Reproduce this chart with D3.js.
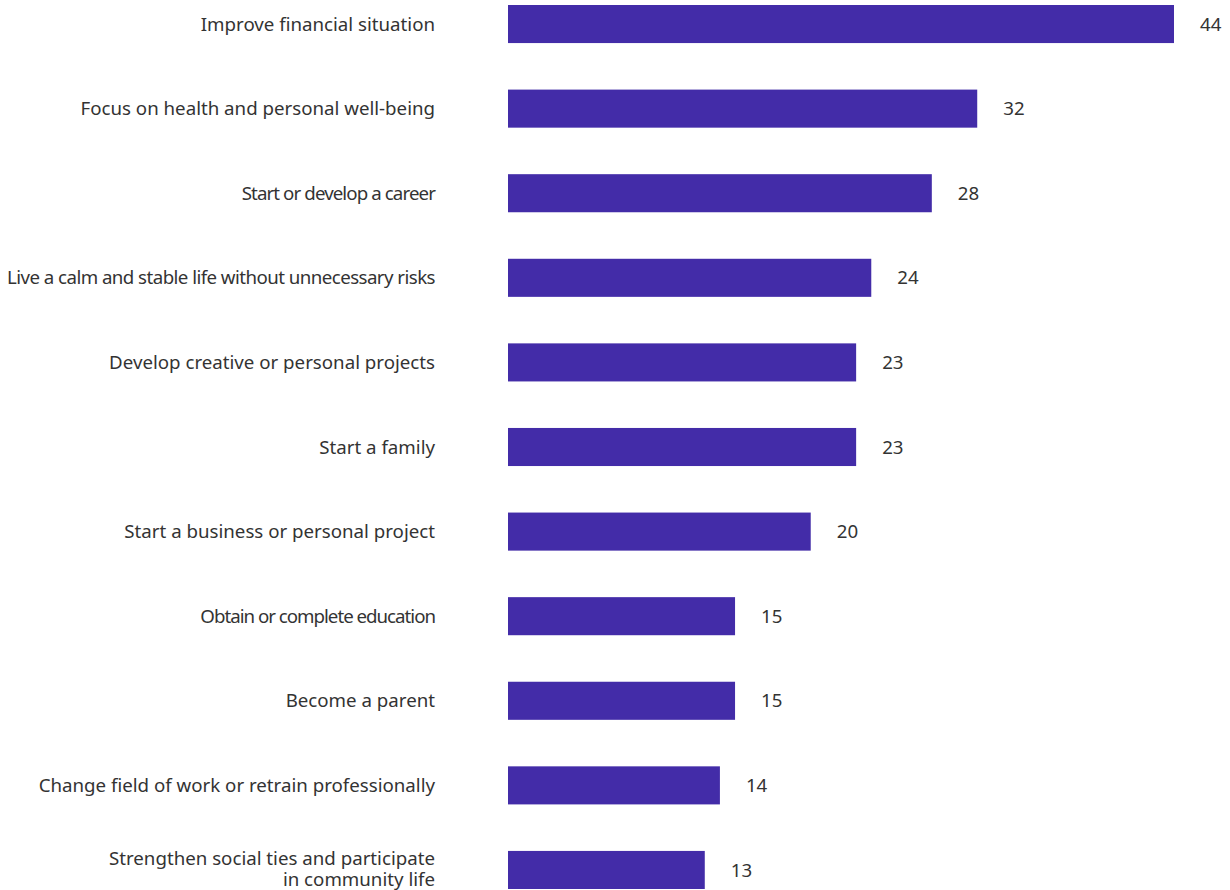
<!DOCTYPE html>
<html>
<head>
<meta charset="utf-8">
<script src="https://cdn.jsdelivr.net/npm/d3@7"></script>
<style>
  html, body { margin: 0; padding: 0; background: #fff; }
  svg { display: block; }
  text { font-family: "Noto Sans", "Open Sans", sans-serif; fill: #333; }
</style>
</head>
<body>
<svg id="chart" width="1230" height="890"></svg>
<script>
const categories = [
  ["Improve financial situation"],
  ["Focus on health and personal well-being"],
  ["Start or develop a career"],
  ["Live a calm and stable life without unnecessary risks"],
  ["Develop creative or personal projects"],
  ["Start a family"],
  ["Start a business or personal project"],
  ["Obtain or complete education"],
  ["Become a parent"],
  ["Change field of work or retrain professionally"],
  ["Strengthen social ties and participate", "in community life"]
];
const values = [44, 31, 28, 24, 23, 23, 20, 15, 15, 14, 13];
const valueLabels = ["44", "32", "28", "24", "23", "23", "20", "15", "15", "14", "13"];
const labelSpacing = [0, 0, -0.9, -0.55, 0, 0, 0, -1.0, 0, 0, 0];

const svg = d3.select("#chart");
const ids = categories.map((c, i) => i);

const x = d3.scaleLinear().domain([0, 44]).range([508, 1174]);
const y = d3.scaleBand().domain(ids).range([5, 889]).paddingInner(0.55).paddingOuter(0);

svg.append("g").selectAll("rect").data(ids).join("rect")
  .attr("x", x(0))
  .attr("y", i => y(i))
  .attr("width", i => x(values[i]) - x(0))
  .attr("height", y.bandwidth())
  .attr("fill", "#432ca8");

svg.append("g").selectAll("text").data(ids).join("text")
  .attr("x", i => x(values[i]) + 26)
  .attr("y", i => y(i) + y.bandwidth() / 2)
  .attr("dy", "0.35em")
  .attr("font-size", 18.7)
  .text(i => valueLabels[i]);

const lab = svg.append("g").selectAll("text").data(ids).join("text")
  .attr("x", 435)
  .attr("y", i => y(i) + y.bandwidth() / 2)
  .attr("text-anchor", "end")
  .attr("font-size", 18.7)
  .attr("letter-spacing", i => labelSpacing[i]);
lab.each(function(i) {
  const lines = categories[i];
  const lh = 21;
  const off = -(lines.length - 1) * (lh / 2 + 0.75);
  d3.select(this).selectAll("tspan").data(lines).join("tspan")
    .attr("x", 435)
    .attr("y", (d, k) => y(i) + y.bandwidth() / 2 + off + k * lh)
    .attr("dy", "0.35em")
    .text(d => d);
});
</script>
</body>
</html>
